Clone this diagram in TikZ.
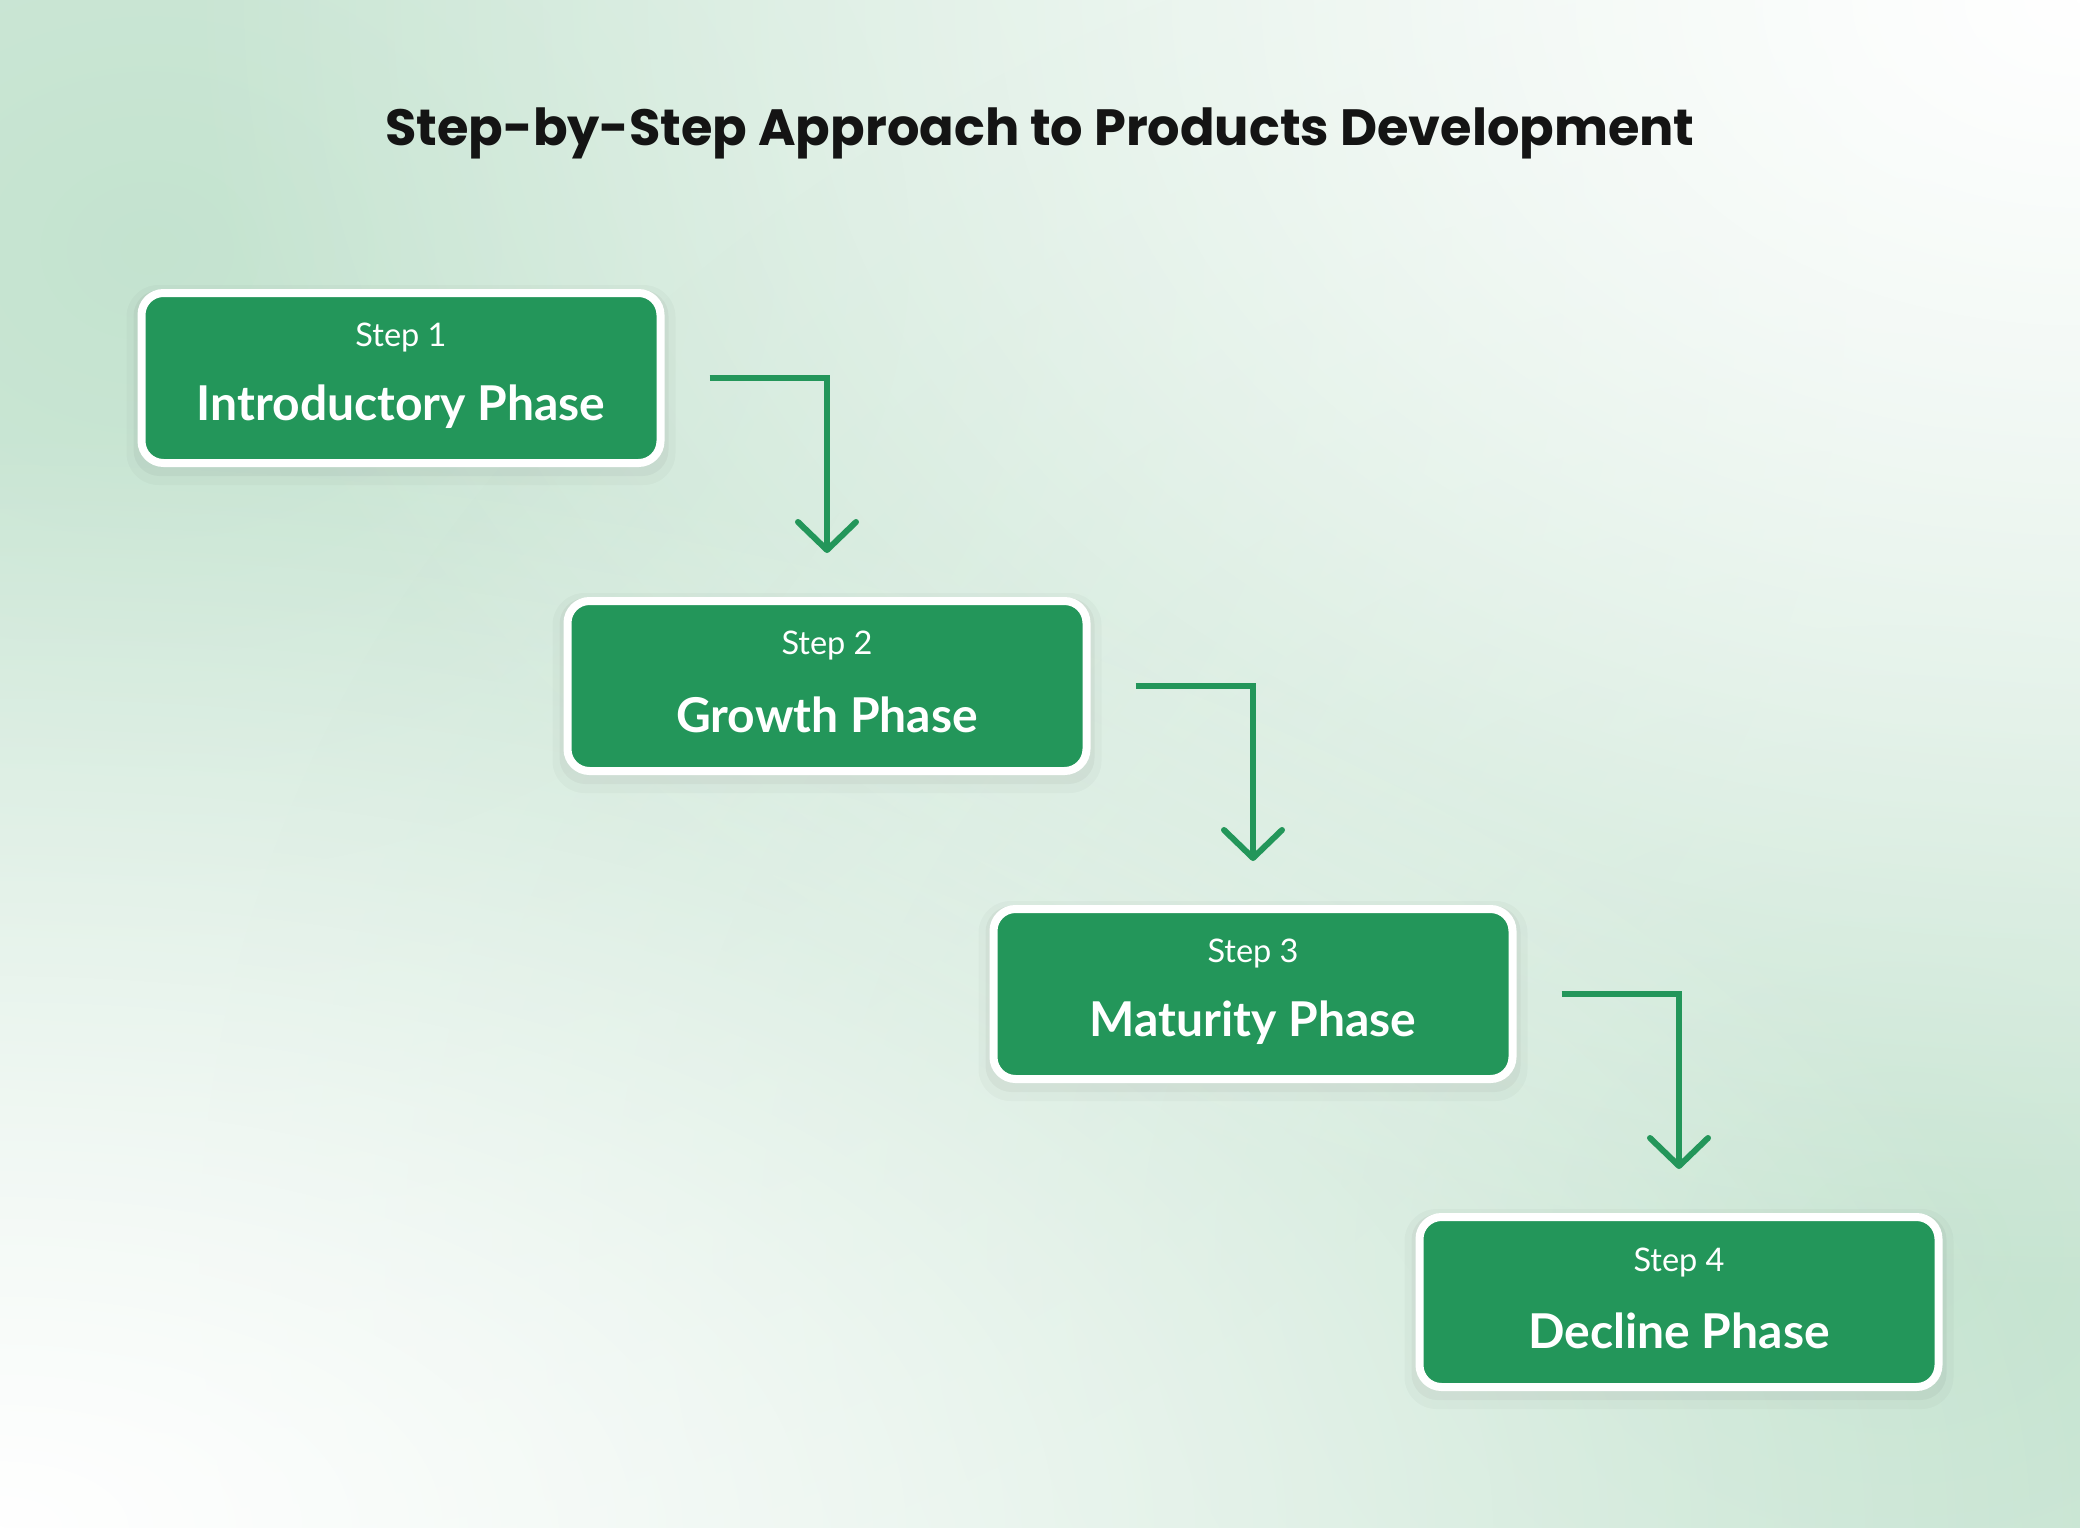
\documentclass[tikz,border=0pt]{standalone}
\usepackage{fontspec}
\setmainfont{Lato}
\newfontfamily\popfont{Poppins}
\usetikzlibrary{arrows.meta,fadings}
\definecolor{boxgreen}{HTML}{23965A}
\definecolor{bggreen}{HTML}{C1E2CD}
\definecolor{basegreen}{HTML}{E1F0E7}
\definecolor{titlecol}{HTML}{141414}
\tikzfading[name=softblob, inner color=transparent!0, outer color=transparent!100]
\tikzset{
  phasebox/.style={fill=boxgreen, draw=white, line width=8pt, rounded corners=22pt,
    minimum width=519pt, minimum height=170pt, inner sep=0pt},
  boxshadow/.style={fill=black, rounded corners=26pt, minimum width=535pt, minimum height=186pt, inner sep=0pt, opacity=0.035},
  steplabel/.style={text=white, font=\fontsize{32.5}{38}\selectfont, inner sep=0pt},
  phaselabel/.style={text=white, font=\fontsize{48}{56}\selectfont\bfseries, inner sep=0pt},
  flow/.style={draw=boxgreen, line width=6pt, line join=miter,
    -{Straight Barb[length=28pt, width=58pt, line cap=round, line join=round]}},
}
\begin{document}
\begin{tikzpicture}[x=1pt,y=-1pt]
\useasboundingbox (0,0) rectangle (2080,1528);
\fill[basegreen] (0,0) rectangle (2080,1528);
\begin{scope}
\clip (0,0) rectangle (2080,1528);
\fill[bggreen, path fading=softblob, opacity=0.9] (150,250) ellipse (1700 and 1400);
\fill[bggreen, path fading=softblob, opacity=0.9] (1900,1250) ellipse (1700 and 1400);
\fill[white, path fading=softblob, opacity=1] (2080,0) ellipse (1900 and 1300);
\fill[white, path fading=softblob, opacity=1] (0,1528) ellipse (2100 and 1100);
\end{scope}

\node[font=\popfont\bfseries\fontsize{51}{60}\selectfont, text=titlecol, inner sep=0pt] (title) at (1040,133) {Step-by-Step Approach to Products Development};

\foreach \n/\cx/\cy in {1/401/378, 2/827/686, 3/1253/994, 4/1679/1302}{
  \node[boxshadow] (sh\n) at (\cx,\cy+5) {};
  \node[boxshadow, minimum width=549pt, minimum height=200pt, rounded corners=32pt, opacity=0.025] (shb\n) at (\cx,\cy+7) {};
}

\node[phasebox] (b1) at (401,378) {};
\node[phasebox] (b2) at (827,686) {};
\node[phasebox] (b3) at (1253,994) {};
\node[phasebox] (b4) at (1679,1302) {};

\node[steplabel] (s1) at ([yshift=40pt]b1.center) {Step 1};
\node[phaselabel] (p1) at ([yshift=-29pt]b1.center) {Introductory Phase};
\node[steplabel] (s2) at ([yshift=40pt]b2.center) {Step 2};
\node[phaselabel] (p2) at ([yshift=-29pt]b2.center) {Growth Phase};
\node[steplabel] (s3) at ([yshift=40pt]b3.center) {Step 3};
\node[phaselabel] (p3) at ([yshift=-29pt]b3.center) {Maturity Phase};
\node[steplabel] (s4) at ([yshift=40pt]b4.center) {Step 4};
\node[phaselabel] (p4) at ([yshift=-29pt]b4.center) {Decline Phase};

\coordinate (a1s) at ([xshift=45pt]b1.east);
\coordinate (a1e) at ([yshift=44pt]b2.north);
\coordinate (a2s) at ([xshift=45pt]b2.east);
\coordinate (a2e) at ([yshift=44pt]b3.north);
\coordinate (a3s) at ([xshift=45pt]b3.east);
\coordinate (a3e) at ([yshift=44pt]b4.north);

\draw[flow] (a1s) -| (a1e);
\draw[flow] (a2s) -| (a2e);
\draw[flow] (a3s) -| (a3e);
\end{tikzpicture}
\end{document}
